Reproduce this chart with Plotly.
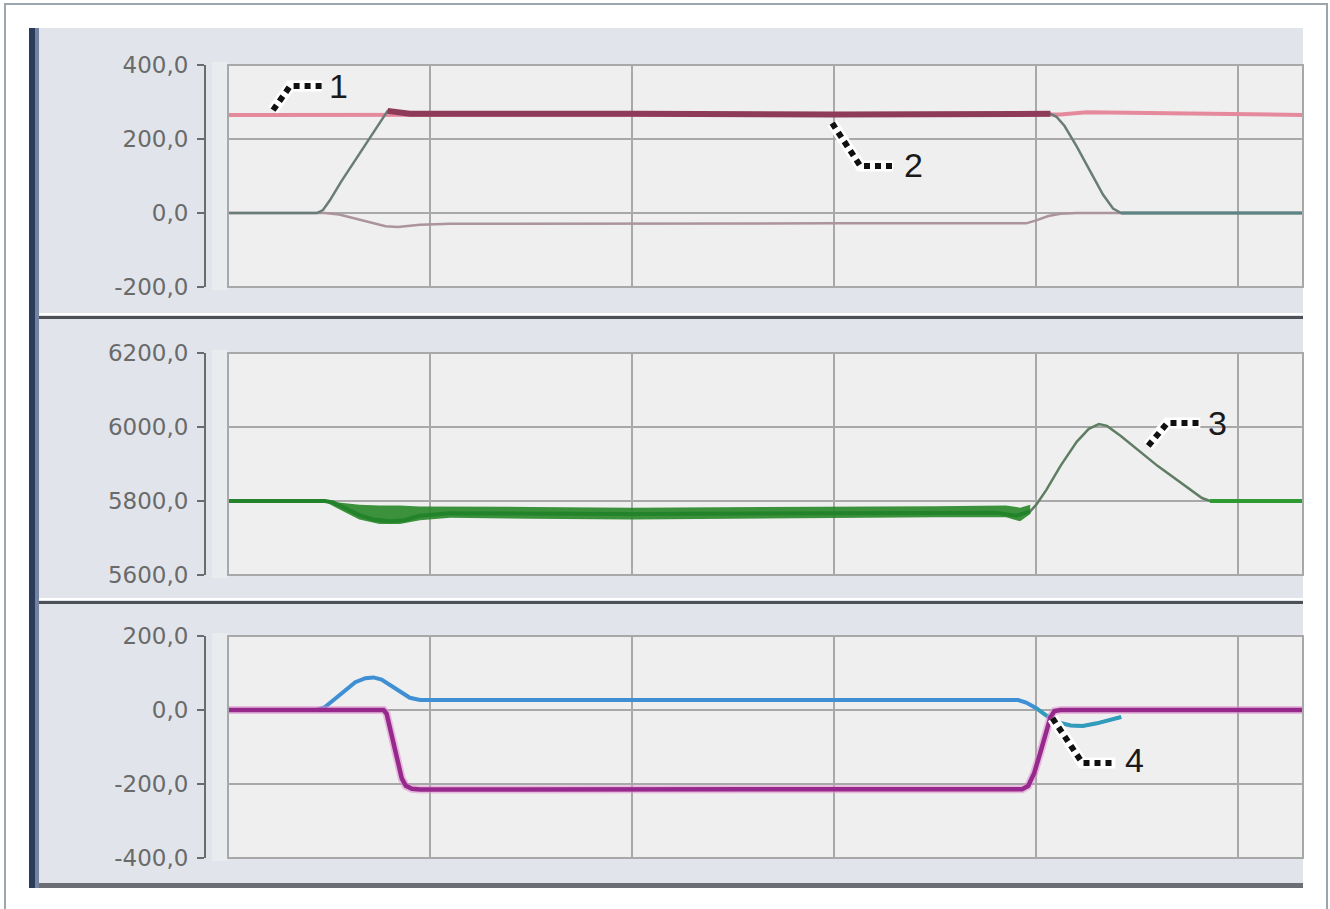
import plotly.graph_objects as go

W, H = 1330, 909

# ---------------- data ----------------
# top panel (range -200..400)
top_ticks = [-200, 0, 200, 400]
s1_t = [0, 4.12, 4.25, 4.8, 5.32]
s1_v = [265, 266, 272, 268, 265]
s2_t = [0, 0.44, 0.47, 0.505, 0.56, 0.63, 0.69, 0.73, 0.77, 0.79, 0.85, 0.9, 2.0, 3.0,
        4.07, 4.1, 4.14, 4.2, 4.27, 4.33, 4.38, 4.42, 5.32]
s2_v = [0, 0, 8, 35, 85, 143, 195, 228, 262, 276, 270, 268, 268, 266,
        268, 260, 235, 180, 110, 50, 12, 0, 0]
s3_t = [0, 0.48, 0.55, 0.62, 0.7, 0.78, 0.84, 0.95, 1.1, 2.0, 3.0, 3.95, 4.0, 4.06, 4.12, 4.2, 5.32]
s3_v = [0, 0, -4, -14, -26, -36, -38, -32, -29, -28, -28, -28, -20, -8, -2, 0, 0]

# middle panel (range 5600..6200)
mid_ticks = [5600, 5800, 6000, 6200]
g_t = [0, 0.48, 0.52, 0.58, 0.65, 0.72, 0.8, 0.87, 0.95, 1.1, 2.0, 3.0, 3.8, 3.9, 3.97,
       4.0, 4.05, 4.12, 4.2, 4.26, 4.31, 4.35, 4.42, 4.6, 4.75, 4.82, 4.86, 5.32]
g_v = [5800, 5800, 5796, 5780, 5762, 5750, 5745, 5748, 5760, 5767, 5765, 5767, 5768, 5760, 5772,
       5790, 5830, 5895, 5960, 5995, 6008, 6003, 5975, 5895, 5835, 5808, 5800, 5800]
band_t = [0.48, 0.55, 0.65, 0.75, 0.85, 0.95, 1.1, 1.5, 2.0, 2.5, 3.0, 3.5, 3.85, 3.92, 3.97]
band_hi = [5800, 5796, 5790, 5788, 5788, 5785, 5785, 5784, 5782, 5783, 5785, 5786, 5788, 5782, 5790]
band_lo = [5798, 5778, 5750, 5738, 5738, 5748, 5755, 5752, 5750, 5752, 5754, 5756, 5756, 5745, 5765]

# bottom panel (range -400..200)
bot_ticks = [-400, -200, 0, 200]
b_t = [0, 0.44, 0.48, 0.53, 0.58, 0.63, 0.68, 0.72, 0.76, 0.8, 0.85, 0.9, 0.95, 1.5, 2.5, 3.5,
       3.91, 3.95, 4.0, 4.05, 4.1, 4.17, 4.23, 4.3, 4.37, 4.42]
b_v = [0, 0, 8, 30, 55, 75, 86, 88, 82, 68, 48, 33, 27, 27, 26, 26,
       27, 20, 5, -15, -32, -42, -43, -36, -26, -19]
m_t = [0, 0.77, 0.785, 0.8, 0.82, 0.84, 0.86, 0.88, 0.91, 0.95, 2.0, 3.0, 3.93,
       3.96, 3.99, 4.02, 4.05, 4.07, 4.09, 4.12, 5.32]
m_v = [0, 0, -10, -45, -100, -150, -185, -205, -213, -215, -215, -215, -214,
       -205, -170, -115, -60, -20, -3, 0, 0]

labels = ["1", "2", "3", "4"]
XMAX = 5.32

fig = go.Figure()

def add(t, v, color, width, xa, ya, opacity=1.0):
    fig.add_trace(go.Scatter(x=t, y=v, mode="lines",
                             line=dict(color=color, width=width),
                             xaxis=xa, yaxis=ya, opacity=opacity, showlegend=False,
                             hoverinfo="skip"))

def part(t, v, lo, hi):
    sel = [(a, b) for a, b in zip(t, v) if lo <= a <= hi]
    return [p[0] for p in sel], [p[1] for p in sel]

# top
add(s3_t, s3_v, "#ab949c", 2.5, "x", "y")
add(s1_t, s1_v, "#e5899d", 4, "x", "y")
add(s2_t, s2_v, "#6a7c7a", 2.5, "x", "y")
add(*part(s2_t, s2_v, 0.79, 4.07), "#8d3b58", 6, "x", "y")
add(*part(s2_t, s2_v, 4.42, XMAX), "#5d8484", 3, "x", "y")

# middle
fig.add_trace(go.Scatter(x=band_t + band_t[::-1], y=band_hi + band_lo[::-1], fill="toself",
                         fillcolor="rgba(40,135,40,0.9)", line=dict(width=0),
                         xaxis="x2", yaxis="y2", showlegend=False, hoverinfo="skip"))
add(g_t, g_v, "#5f7d63", 2.5, "x2", "y2")
add(*part(g_t, g_v, 0, 3.97), "#23832a", 4, "x2", "y2")
add(*part(g_t, g_v, 4.86, XMAX), "#2f9a32", 4, "x2", "y2")

# bottom
add(b_t, b_v, "#3f8fd4", 4, "x3", "y3")
add(*part(b_t, b_v, 4.0, 4.42), "#2e9fb4", 3, "x3", "y3")
add(m_t, m_v, "#e08fcf", 8, "x3", "y3", opacity=0.55)
add(m_t, m_v, "#97298c", 4.5, "x3", "y3")

# ---------------- layout ----------------
PX_L, PX_R = 228, 1303
PANELS = [(65, 287), (353, 575), (636, 858)]
xd = [PX_L / W, PX_R / W]
def pdom(top_px, bot_px):
    return [1 - bot_px / H, 1 - top_px / H]

axis_font = dict(family="DejaVu Sans", size=23, color="#6a6a6a")

def fmt(v):
    return f"{v:.1f}".replace(".", ",")

def yax(dom, rng, ticks):
    return dict(domain=dom, range=rng, tickvals=ticks, ticktext=[fmt(v) for v in ticks],
                anchor="free", position=205 / W, showline=True, linecolor="#6b6b6b",
                linewidth=2, ticks="outside", ticklen=7, tickwidth=2, tickcolor="#6b6b6b",
                showgrid=True, gridcolor="#a8a8a8", gridwidth=2, zeroline=False,
                tickfont=axis_font, ticklabelstandoff=4, fixedrange=True, automargin=False)

def xax(anchor):
    return dict(domain=xd, range=[0, XMAX], anchor=anchor, showticklabels=False,
                showgrid=True, dtick=1, tick0=0, gridcolor="#a8a8a8", gridwidth=2,
                zeroline=False, showline=False, ticks="", fixedrange=True, automargin=False)

fig.update_layout(
    width=W, height=H, margin=dict(l=0, r=0, t=0, b=0, pad=0, autoexpand=False),
    autosize=False,
    paper_bgcolor="white", plot_bgcolor="#efefef",
    xaxis=xax("y"), xaxis2=xax("y2"), xaxis3=xax("y3"),
    yaxis=yax(pdom(*PANELS[0]), [-200, 400], top_ticks),
    yaxis2=yax(pdom(*PANELS[1]), [5600, 6200], mid_ticks),
    yaxis3=yax(pdom(*PANELS[2]), [-400, 200], bot_ticks),
)

shapes = []
def prect(x0, y0, x1, y1, fill, line_color=None, lw=0, layer="below"):
    shapes.append(dict(type="rect", xref="paper", yref="paper",
                       x0=x0 / W, x1=x1 / W, y0=1 - y1 / H, y1=1 - y0 / H,
                       fillcolor=fill, line=dict(color=line_color or fill, width=lw),
                       layer=layer))

# outer frame
shapes.append(dict(type="path", xref="paper", yref="paper",
                   path=f"M {5/W},0 L {5/W},{1-4/H} L {1327/W},{1-4/H} L {1327/W},0",
                   line=dict(color="#9aa5ae", width=2), layer="below"))
# panel background
prect(29, 28, 1303, 888, "#e1e5eb")
prect(29, 28, 35, 888, "#2b3c5a")
prect(35, 28, 39, 888, "#7484a0")
# separators
for y0 in (313, 598):
    prect(39, y0, 1303, y0 + 2, "#ffffff")
    prect(39, y0 + 3, 1303, y0 + 6, "#4c5157")
prect(39, 883, 1303, 888, "#6b6f73")
# plot-area backgrounds and slightly lighter strip between axis and plot
for top_px, bot_px in PANELS:
    prect(212, top_px - 3, PX_L, bot_px + 3, "#e9ecef")
    prect(PX_L, top_px, PX_R, bot_px, "#efefef")

# plot-area borders
for xa, ya in (("x", "y"), ("x2", "y2"), ("x3", "y3")):
    shapes.append(dict(type="rect", xref=f"{xa} domain", yref=f"{ya} domain",
                       x0=0, x1=1, y0=0, y1=1, line=dict(color="#a8a8a8", width=2),
                       fillcolor="rgba(0,0,0,0)", layer="above"))

# callouts: (xref, yref, points, label position)
callouts = [
    ("x", "y", [(0.223, 278), (0.307, 343), (0.465, 343)], (0.545, 343)),
    ("x", "y", [(2.99, 243), (3.129, 127), (3.292, 127)], (3.39, 130)),
    ("x2", "y2", [(4.554, 5949), (4.649, 6011), (4.812, 6011)], (4.896, 6011)),
    ("x3", "y3", [(4.08, -22), (4.228, -143), (4.391, -143)], (4.485, -135)),
]
anns = []
for (xr, yr, pts, lp), lab in zip(callouts, labels):
    path = "M " + " L ".join(f"{px},{py}" for px, py in pts)
    shapes.append(dict(type="path", xref=xr, yref=yr, path=path,
                       line=dict(color="white", width=11), layer="above"))
    shapes.append(dict(type="path", xref=xr, yref=yr, path=path,
                       line=dict(color="#111111", width=6, dash="6px,5px"), layer="above"))
    anns.append(dict(xref=xr, yref=yr, x=lp[0], y=lp[1], text=lab, showarrow=False,
                     xanchor="center", yanchor="middle",
                     font=dict(family="Liberation Sans", size=34, color="#1a1a1a")))

fig.update_layout(shapes=shapes, annotations=anns)

fig.write_html("out.html", config={"displayModeBar": False},
               post_script="document.documentElement.style.margin='0';"
                           "document.body.style.margin='0';"
                           "document.body.style.overflow='hidden';")
